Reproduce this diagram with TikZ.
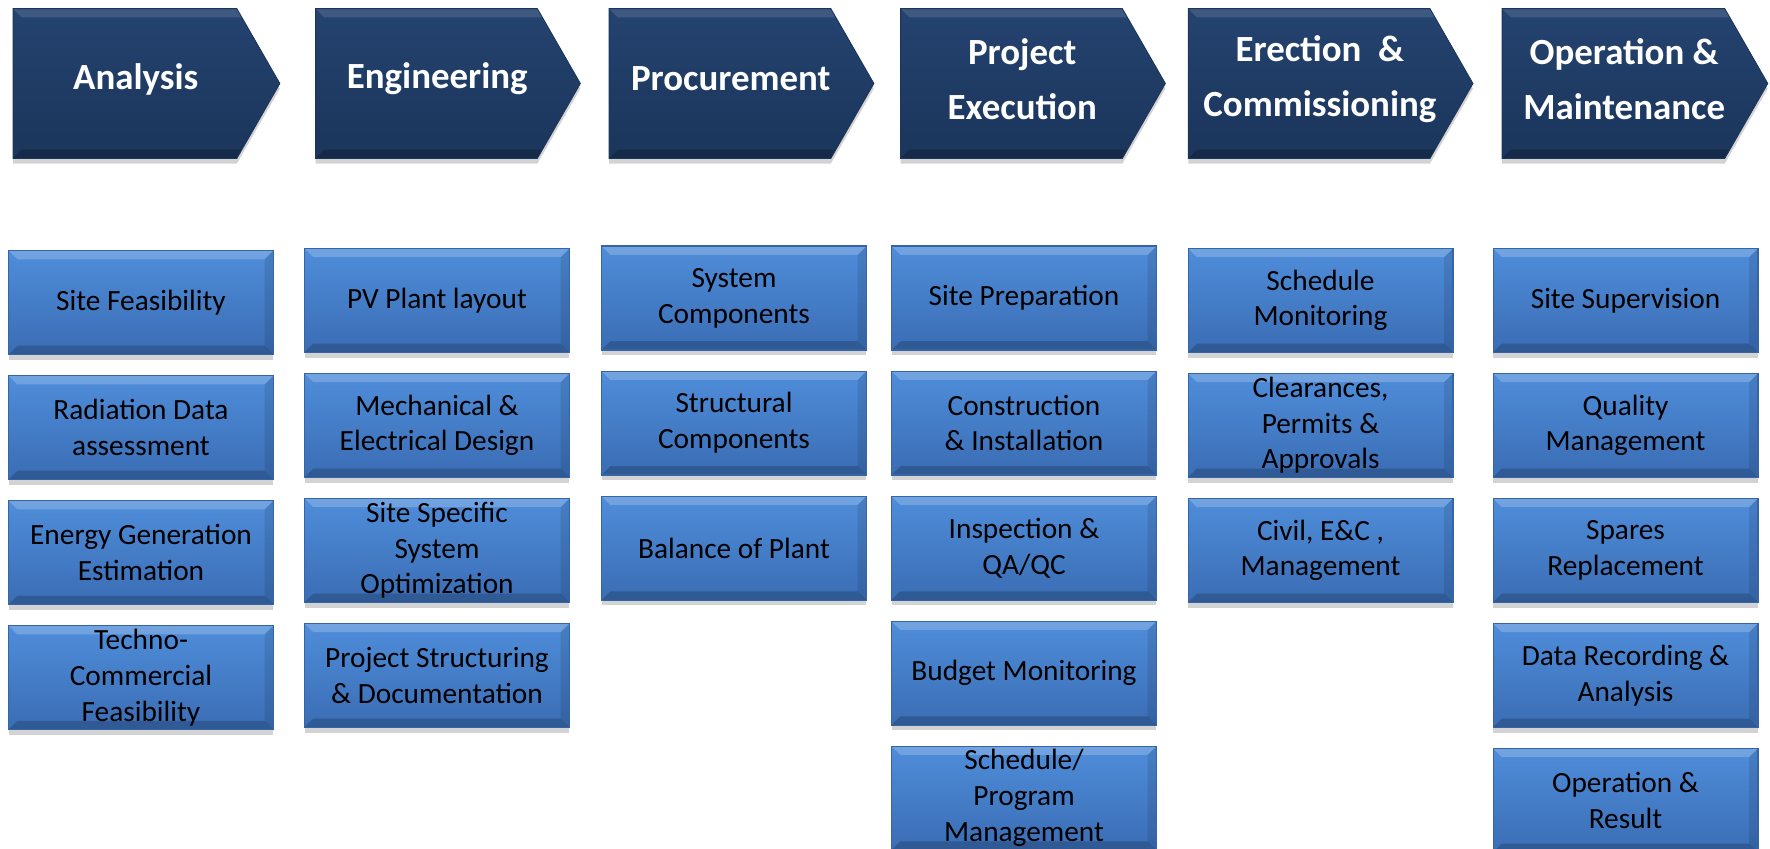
\documentclass[tikz,border=0pt]{standalone}
\usepackage{fontspec}
\setmainfont{Carlito}
\usepackage{tikz}
\usetikzlibrary{positioning,calc,shadows,backgrounds}

\definecolor{navytop}{HTML}{24436F}
\definecolor{navybot}{HTML}{1B355B}
\definecolor{bluetop}{HTML}{4F8DDA}
\definecolor{bluebot}{HTML}{3A6DB4}
\definecolor{blueedge}{HTML}{3565A6}

\tikzset{
  phase/.style={minimum height=2.98cm, inner sep=0pt},
  phasetext/.style={inner sep=0pt, align=center, text=white, font=\fontsize{21}{31.5}\selectfont\bfseries},
  chevron/.style={top color=navytop, bottom color=navybot, draw=navybot, line width=0.5pt,
    drop shadow={shadow xshift=0pt, shadow yshift=-3pt, opacity=.35},
    path picture={
      \fill[white,opacity=.12] (path picture bounding box.north west) -- (path picture bounding box.north east)
        -- ([yshift=-5pt]path picture bounding box.north east) -- ([xshift=5pt,yshift=-5pt]path picture bounding box.north west) -- cycle;
      \fill[black,opacity=.2] (path picture bounding box.south west) -- (path picture bounding box.south east)
        -- ([yshift=5pt]path picture bounding box.south east) -- ([xshift=5pt,yshift=5pt]path picture bounding box.south west) -- cycle;
    }},
  task/.style={minimum width=5.3cm, minimum height=2.08cm, inner sep=0pt,
    align=center, font=\fontsize{16.7}{20.4}\selectfont,
    top color=bluetop, bottom color=bluebot, draw=blueedge, line width=0.6pt,
    drop shadow={shadow xshift=0pt, shadow yshift=-3pt, opacity=.35},
    path picture={
      \fill[white,opacity=.2] (path picture bounding box.north west) -- (path picture bounding box.north east)
        -- ([xshift=-5pt,yshift=-5pt]path picture bounding box.north east) -- ([xshift=5pt,yshift=-5pt]path picture bounding box.north west) -- cycle;
      \fill[black,opacity=.18] (path picture bounding box.south west) -- (path picture bounding box.south east)
        -- ([xshift=-5pt,yshift=5pt]path picture bounding box.south east) -- ([xshift=5pt,yshift=5pt]path picture bounding box.south west) -- cycle;
      \fill[black,opacity=.1] (path picture bounding box.north east) -- (path picture bounding box.south east)
        -- ([xshift=-5pt,yshift=5pt]path picture bounding box.south east) -- ([xshift=-5pt,yshift=-5pt]path picture bounding box.north east) -- cycle;
    }},
  node distance=0.4cm
}

\begin{document}
\begin{tikzpicture}[x=0.02cm, y=-0.02cm]
  \useasboundingbox (0,0) rectangle (1770,848);
  \def\sl{0.43cm} % half of the arrow point

  % phase arrows: name / left edge / width / text
  \foreach \nm/\lx/\pw/\txt in {ana/13.5/266/{Analysis}, eng/316/264/{Engineering},
      pro/609.5/264/{Procurement}, exe/901/264/{Project\\Execution},
      erc/1188.6/284/{Erection~ \&\\Commissioning}, opm/1502.4/265/{Operation \&\\Maintenance}}
  {
    \pgfmathsetmacro\cx{\lx+(\pw-21.5)/2}
    \pgfmathsetmacro\bodyw{(\pw-21.5)*0.02}
    \node[phase, minimum width=\bodyw cm] (\nm) at (\cx,83.5) {};
    \node[phasetext] (\nm-t) at ([yshift=2.5pt]\nm.center) {\txt};
    \begin{scope}[on background layer]
      \path[chevron] (\nm.north west) -- ([xshift=-\sl]\nm.north east) -- ([xshift=\sl]\nm.east)
        -- ([xshift=-\sl]\nm.south east) -- (\nm.south west) -- cycle;
    \end{scope}
  }

  % analysis
  \node[task] (ana1) at (141,302.5) {Site Feasibility};
  \node[task, below=of ana1] (ana2) {Radiation Data\\assessment};
  \node[task, below=of ana2] (ana3) {Energy Generation\\Estimation};
  \node[task, below=of ana3] (ana4) {Techno-\\Commercial\\Feasibility};

  % engineering
  \node[task] (eng1) at (437,300.3) {PV Plant layout};
  \node[task, below=of eng1] (eng2) {Mechanical \&\\Electrical Design};
  \node[task, below=of eng2] (eng3) {Site Specific\\System\\Optimization};
  \node[task, below=of eng3] (eng4) {Project Structuring\\\& Documentation};

  % procurement
  \node[task] (pro1) at (734,298) {System\\Components};
  \node[task, below=of pro1] (pro2) {Structural\\Components};
  \node[task, below=of pro2] (pro3) {Balance of Plant};

  % project execution
  \node[task] (exe1) at (1024,298) {Site Preparation};
  \node[task, below=of exe1] (exe2) {Construction\\\& Installation};
  \node[task, below=of exe2] (exe3) {Inspection \&\\QA/QC};
  \node[task, below=of exe3] (exe4) {Budget Monitoring};
  \node[task, below=of exe4] (exe5) {Schedule/\\Program\\Management};

  % erection and commissioning
  \node[task] (erc1) at (1320.5,300.3) {Schedule\\Monitoring};
  \node[task, below=of erc1] (erc2) {Clearances,\\Permits \&\\Approvals};
  \node[task, below=of erc2] (erc3) {Civil, E\&C ,\\Management};

  % operation and maintenance
  \node[task] (opm1) at (1625.5,300.3) {Site Supervision};
  \node[task, below=of opm1] (opm2) {Quality\\Management};
  \node[task, below=of opm2] (opm3) {Spares\\Replacement};
  \node[task, below=of opm3] (opm4) {Data Recording \&\\Analysis};
  \node[task, below=of opm4] (opm5) {Operation \&\\Result};
\end{tikzpicture}
\end{document}
